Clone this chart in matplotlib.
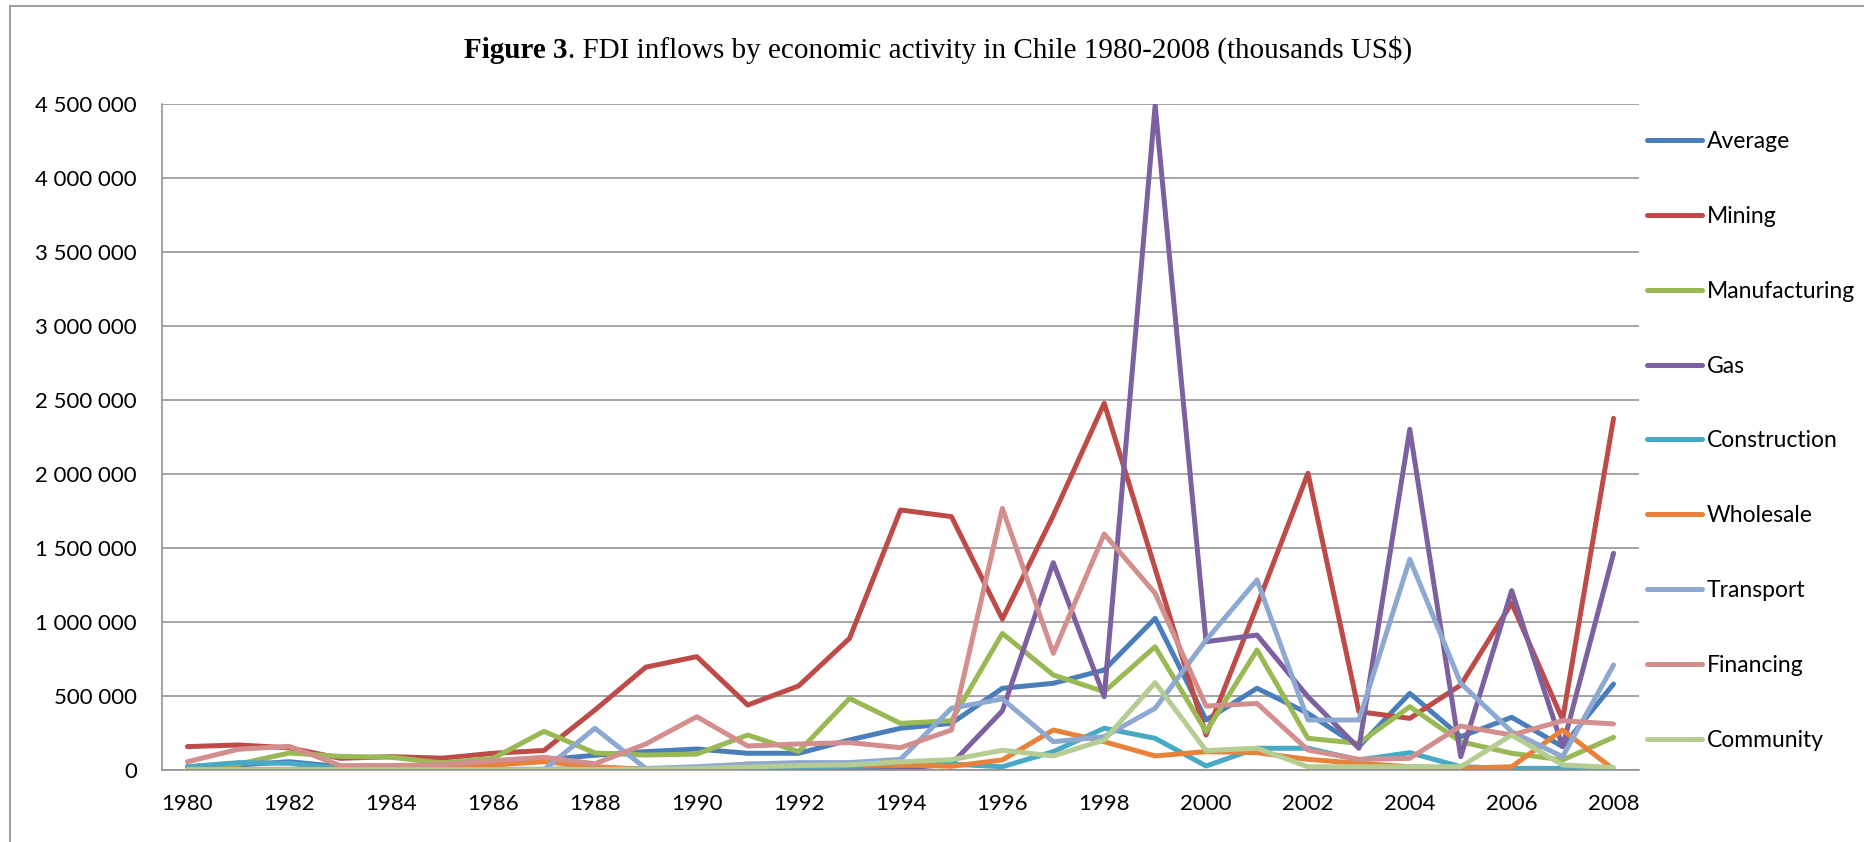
import numpy as np
import matplotlib
matplotlib.use('Agg')
import matplotlib.pyplot as plt
from matplotlib.ticker import FuncFormatter, MultipleLocator
from matplotlib.patches import Rectangle

plt.rc('font', family='Lato', size=16)

years = list(range(1980, 2009))

# FDI inflows, thousands US$
average = [22000, 34000, 56000, 22000, 18000, 22000, 34000, 68000, 100000, 124000,
           142000, 113000, 113000, 203000, 282000, 315000, 552000, 586000, 676000, 1025000,
           338000, 552000, 383000, 158000, 518000, 225000, 356000, 158000, 581000]
mining = [158000, 169000, 150000, 79000, 90000, 80000, 113000, 132000, 405000, 695000,
          766000, 439000, 568000, 890000, 1757000, 1712000, 1020000, 1720000, 2478000, 1360000,
          236000, 1110000, 2005000, 394000, 349000, 574000, 1128000, 340000, 2376000]
manufacturing = [22000, 40000, 115000, 92000, 86000, 48000, 79000, 261000, 115000, 101000,
                 108000, 236000, 124000, 484000, 315000, 333000, 923000, 642000, 529000, 833000,
                 259000, 811000, 214000, 180000, 428000, 191000, 113000, 68000, 221000]
gas = [2000, 2000, 2000, 2000, 2000, 2000, 2000, 2000, 2000, 2000,
       2000, 2000, 2000, 3000, 10000, 40000, 400000, 1401000, 495000, 4490000,
       867000, 912000, 495000, 147000, 2302000, 90000, 1212000, 158000, 1464000]
construction = [22000, 50000, 45000, 11000, 5000, 5000, 5000, 5000, 10000, 10000,
                10000, 15000, 20000, 25000, 30000, 40000, 22000, 124000, 282000, 214000,
                27000, 147000, 147000, 68000, 117000, 22000, 11000, 11000, 5000]
wholesale = [5000, 5000, 5000, 5000, 5000, 10000, 34000, 56000, 22000, 5000,
             10000, 40000, 30000, 40000, 35000, 25000, 68000, 270000, 191000, 95000,
             124000, 117000, 72000, 45000, 22000, 11000, 22000, 270000, 5000]
transport = [2000, 2000, 2000, 2000, 2000, 2000, 2000, 2000, 282000, 10000,
             22000, 40000, 50000, 50000, 72000, 417000, 480000, 191000, 225000, 417000,
             878000, 1284000, 338000, 338000, 1424000, 586000, 259000, 90000, 709000]
financing = [56000, 140000, 160000, 30000, 30000, 36000, 63000, 86000, 42000, 176000,
             360000, 162000, 176000, 185000, 151000, 270000, 1768000, 788000, 1595000, 1194000,
             432000, 450000, 135000, 72000, 79000, 297000, 236000, 333000, 311000]
community = [2000, 2000, 2000, 2000, 2000, 2000, 2000, 2000, 5000, 5000,
             10000, 20000, 30000, 35000, 55000, 70000, 133000, 95000, 203000, 590000,
             131000, 147000, 22000, 22000, 22000, 22000, 236000, 34000, 17000]

series = [
    ('Average', average, '#4a7ebb'),
    ('Mining', mining, '#be4b48'),
    ('Manufacturing', manufacturing, '#98b954'),
    ('Gas', gas, '#7d60a0'),
    ('Construction', construction, '#46aac5'),
    ('Wholesale', wholesale, '#e8823a'),
    ('Transport', transport, '#8ea9d1'),
    ('Financing', financing, '#d28f8e'),
    ('Community', community, '#b5cc92'),
]

fig = plt.figure(figsize=(18.65, 8.42), dpi=100)
ax = fig.add_axes([162/1865, 1-770/842, (1639-162)/1865, (770-104)/842])

for name, vals, col in series:
    ax.plot(years, vals, color=col, lw=3.6, label=name,
            solid_joinstyle='round', solid_capstyle='round')

ax.set_xlim(1979.5, 2008.5)
ax.set_ylim(0, 4500000)
ax.set_xticks(years[::2])
ax.yaxis.set_major_locator(MultipleLocator(500000))
ax.yaxis.set_major_formatter(FuncFormatter(lambda v, p: f'{v:,.0f}'.replace(',', ' ')))
ax.grid(axis='y', color='#8c8c8c', lw=1.1)
ax.set_axisbelow(True)
for s in ['top', 'right']:
    ax.spines[s].set_visible(False)
for s in ['left', 'bottom']:
    ax.spines[s].set_color('#8c8c8c')
    ax.spines[s].set_linewidth(1.1)
ax.tick_params(axis='both', length=0, colors='black')
ax.tick_params(axis='y', pad=18)
ax.tick_params(axis='x', pad=17)

leg = ax.legend(loc='upper left', bbox_to_anchor=(1647/1865, 1-131/842),
                bbox_transform=fig.transFigure, frameon=False, fontsize=16.5,
                handlelength=2.4, handletextpad=0.2, labelspacing=2.35,
                borderaxespad=0, borderpad=0)
for line in leg.get_lines():
    line.set_linewidth(3.6)

# title: bold figure number followed by regular caption
tfont = dict(family='Liberation Serif', size=21)
t1 = fig.text(0, 1-50/842, 'Figure 3', weight='bold', va='center', **tfont)
t2 = fig.text(0, 1-50/842, '. FDI inflows by economic activity in Chile 1980-2008 (thousands US$)',
              va='center', **tfont)
fig.canvas.draw()
r = fig.canvas.get_renderer()
w1 = t1.get_window_extent(r).width
w2 = t2.get_window_extent(r).width
x0 = 938 - (w1 + w2) / 2
t1.set_x(x0 / 1865)
t2.set_x((x0 + w1) / 1865)

# outer frame
fig.patches.append(Rectangle((10/1865, -0.1), 1.2, 1.1 - 6/842, transform=fig.transFigure,
                             fill=False, edgecolor='#8c8c8c', lw=1.2))

fig.savefig('out.png', dpi=100)
